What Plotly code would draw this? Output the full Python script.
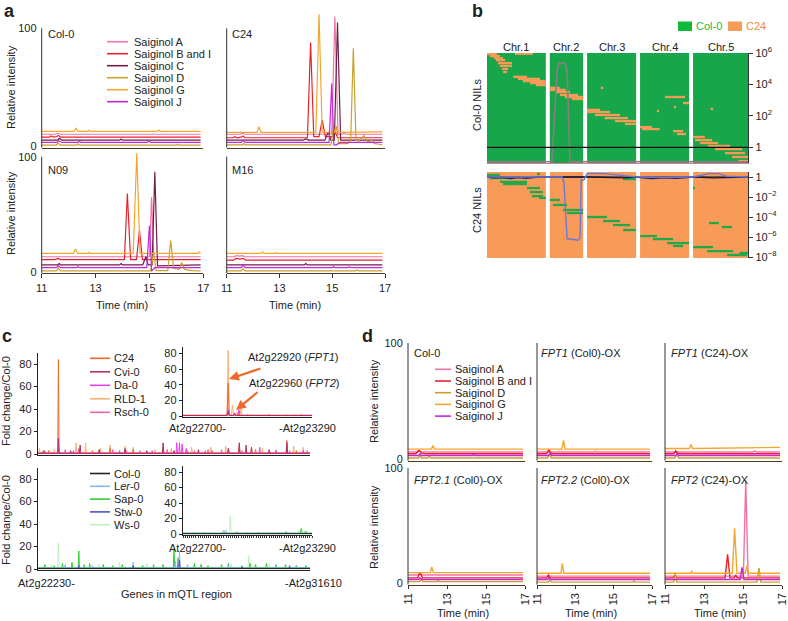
import plotly.graph_objects as go

W, H = 788, 621
FONT = "Liberation Sans, Arial, Helvetica, sans-serif"

# =========================== DATA ===========================
SAIGINOL_A = ["Saiginol A", "Saiginol B and I", "Saiginol C", "Saiginol D", "Saiginol G", "Saiginol J"]
SAIGINOL_D = ["Saiginol A", "Saiginol B and I", "Saiginol D", "Saiginol G", "Saiginol J"]
TIME_TICKS = [11, 13, 15, 17]
INTENSITY_TICKS = [0, 100]

A_TITLES = ["Col-0", "C24", "N09", "M16"]
# (time (min), relative intensity) per series
A_COL0 = {
    "Saiginol A": ([11, 11.5, 11.6, 11.7, 16.9], [10, 10, 10.8, 10, 10]),
    "Saiginol B and I": ([11, 11.3, 11.35, 11.45, 11.55, 11.62, 11.7, 16.9], [7.5, 7.5, 8.6, 7.6, 8.1, 9.0, 7.5, 7.5]),
    "Saiginol C": ([11, 11.6, 11.65, 11.75, 13.9, 13.95, 14.0, 16.9], [5, 5, 6.5, 5, 5, 6, 5, 5]),
    "Saiginol D": ([11, 11.55, 11.6, 11.7, 12.3, 12.35, 12.4, 16.0, 16.05, 16.1, 16.9], [0.8, 0.8, 2.5, 0.8, 0.8, 1.8, 0.8, 0.8, 1.5, 0.8, 0.8]),
    "Saiginol G": ([11, 12.2, 12.27, 12.35, 12.7, 12.75, 12.8, 15.3, 15.35, 15.4, 16.9], [12.5, 12.5, 15, 12.5, 12.5, 13.3, 12.5, 12.5, 13.5, 12.5, 12.5]),
    "Saiginol J": ([11, 11.55, 11.63, 11.75, 12.35, 12.4, 12.45, 14.9, 14.97, 15.05, 16.9], [3, 3, 4.5, 3, 3, 4, 3, 3, 4.5, 3, 3]),
}
A_C24 = {
    "Saiginol A": ([11, 11.5, 11.6, 11.7, 14.98, 15.1, 15.22, 15.4, 15.45, 15.5, 16.9], [10, 10, 11, 10, 10, 110, 10, 10, 11, 10, 10]),
    "Saiginol B and I": ([11, 11.25, 11.3, 11.4, 11.55, 11.62, 11.7, 14.06, 14.18, 14.3, 14.5, 14.62, 14.74, 15.05, 15.12, 15.2, 16.9],
                         [7, 7, 8, 7, 7.5, 8.5, 7, 7, 88, 8, 8, 22, 8, 8, 12, 7, 7]),
    "Saiginol C": ([11, 13.9, 14.0, 14.1, 14.72, 14.85, 14.95, 15.08, 15.2, 15.32, 15.5, 16.9], [5, 5, 6, 5, 5, 12, 5, 5, 105, 5, 5, 5]),
    "Saiginol D": ([11, 11.6, 11.65, 11.7, 14.95, 15.05, 15.1, 15.15, 15.25, 15.6, 15.7, 15.8, 15.9, 16.0, 16.2, 16.35, 16.5, 16.6, 16.8, 16.9],
                   [1, 1, 2, 1, 1, 16, 12, 17, 2, 2, 5, 83, 5, 4, 9, 3, 5, 2, 1.5, 1]),
    "Saiginol G": ([11, 12.15, 12.22, 12.3, 14.38, 14.5, 14.62, 15.1, 15.17, 15.25, 16.9], [11.5, 11.5, 16.5, 11.5, 11.5, 112, 11.5, 11.5, 14, 11.5, 12]),
    "Saiginol J": ([11, 11.55, 11.6, 11.7, 14.88, 14.98, 15.06, 15.15, 15.3, 16.9], [3, 3, 5, 3, 3, 53, 1, 1, 3, 3]),
}
A_N09 = {
    "Saiginol A": ([11, 15.0, 15.08, 15.16, 16.9], [13, 13, 65, 13, 13]),
    "Saiginol B and I": ([11, 11.5, 11.6, 11.7, 14.07, 14.18, 14.3, 14.52, 14.63, 14.74, 16.9], [10.5, 10.5, 11.5, 10.5, 10.5, 68, 10.5, 10.5, 36, 10.5, 10.5]),
    "Saiginol C": ([11, 11.6, 11.65, 11.7, 13.9, 13.95, 14.0, 14.75, 14.87, 14.95, 15.1, 15.2, 15.3, 16.9], [6, 6, 7, 6, 6, 7, 6, 6, 13, 6, 6, 87, 5, 6]),
    "Saiginol D": ([11, 11.55, 11.62, 11.7, 15.05, 15.15, 15.25, 15.68, 15.79, 15.9, 16.1, 16.2, 16.3, 16.6, 16.9],
                   [0.8, 0.8, 3, 0.8, 0.8, 17, 1, 1, 27, 3, 2, 8, 2, 1, 0.8]),
    "Saiginol G": ([11, 12.18, 12.25, 12.33, 12.7, 12.75, 12.8, 14.4, 14.53, 14.65, 16.8, 16.85, 16.9], [16, 16, 19.5, 16, 16, 16.8, 16, 16, 103, 16, 16, 17, 16]),
    "Saiginol J": ([11, 11.55, 11.62, 11.7, 12.3, 12.35, 12.4, 14.9, 15.0, 15.08, 15.2, 16.9], [3.5, 3.5, 5.5, 3.5, 3.5, 4.5, 3.5, 3.5, 40, 0.5, 3.5, 3.5]),
}
A_M16 = {
    "Saiginol A": ([11, 11.3, 11.35, 11.5, 11.6, 11.7, 16.9], [13, 13, 14, 13.5, 14, 13, 13]),
    "Saiginol B and I": ([11, 11.25, 11.35, 11.5, 11.62, 11.72, 16.9], [10, 10, 11.5, 11, 11.5, 10, 10]),
    "Saiginol C": ([11, 13.95, 14.0, 14.05, 16.9], [6, 6, 7, 6, 6]),
    "Saiginol D": ([11, 11.55, 11.62, 11.7, 15.9, 15.95, 16.0, 16.9], [0.8, 0.8, 2.5, 0.8, 0.8, 1.5, 0.8, 0.8]),
    "Saiginol G": ([11, 12.3, 12.35, 12.4, 12.8, 12.85, 12.9, 16.9], [16, 16, 17, 16, 16, 16.5, 16, 16]),
    "Saiginol J": ([11, 11.55, 11.62, 11.7, 15.0, 15.05, 15.1, 15.6, 15.65, 15.7, 16.9], [3.5, 3.5, 6, 3.5, 3.5, 4.5, 3.5, 3.5, 4.3, 3.5, 3.5]),
}

D_TITLES = ["Col-0", "<i>FPT1</i> (Col0)-OX", "<i>FPT1</i> (C24)-OX",
            "<i>FPT2.1</i> (Col0)-OX", "<i>FPT2.2</i> (Col0)-OX", "<i>FPT2</i> (C24)-OX"]
D_COL0 = {
    "Saiginol A": ([11, 11.5, 11.6, 11.7, 16.9], [6, 6, 7, 6, 6]),
    "Saiginol B and I": ([11, 11.4, 11.55, 11.7, 11.9, 16.9], [4.5, 4.5, 7.5, 5, 4.5, 4.5]),
    "Saiginol D": ([11, 11.55, 11.62, 11.7, 12.0, 12.1, 12.2, 16.9], [0.8, 0.8, 4, 0.8, 0.8, 2, 0.8, 0.8]),
    "Saiginol G": ([11, 12.2, 12.28, 12.36, 16.9], [8.5, 8.5, 11.5, 8.5, 8.5]),
    "Saiginol J": ([11, 11.55, 11.62, 11.7, 14.3, 14.35, 14.4, 16.9], [3, 3, 4.5, 3, 3, 4, 3, 3]),
}
D_FPT1_COL0 = {
    "Saiginol A": ([11, 14.0, 14.05, 14.1, 16.9], [6, 6, 6.8, 6, 6]),
    "Saiginol B and I": ([11, 11.5, 11.62, 11.75, 16.9], [4.5, 4.5, 8, 4.5, 4.5]),
    "Saiginol D": ([11, 11.55, 11.65, 11.75, 16.9], [0.8, 0.8, 4, 0.8, 0.8]),
    "Saiginol G": ([11, 12.3, 12.38, 12.46, 16.9], [8.5, 8.5, 16, 8.5, 8.5]),
    "Saiginol J": ([11, 11.6, 11.68, 11.76, 16.9], [3, 3, 5, 3, 3]),
}
D_FPT1_C24 = {
    "Saiginol A": ([11, 15.5, 15.6, 15.7, 16.9], [6, 6, 7, 6, 6]),
    "Saiginol B and I": ([11, 11.45, 11.55, 11.7, 16.9], [4.5, 4.5, 7, 4.5, 4.5]),
    "Saiginol D": ([11, 11.5, 11.6, 11.7, 16.9], [0.8, 0.8, 4, 0.8, 0.8]),
    "Saiginol G": ([11, 12.25, 12.33, 12.41, 16.9], [9, 9, 12.5, 9, 10]),
    "Saiginol J": ([11, 11.55, 11.62, 11.7, 16.9], [3, 3, 5, 3, 3]),
}
D_FPT21 = {
    "Saiginol A": ([11, 11.5, 11.6, 11.7, 16.9], [7, 7, 8, 7, 7]),
    "Saiginol B and I": ([11, 11.5, 11.62, 11.75, 16.9], [4.5, 4.5, 9, 4.5, 4.5]),
    "Saiginol D": ([11, 11.6, 11.68, 11.76, 12.5, 12.55, 12.6, 16.9], [1.2, 1.2, 4, 1.2, 1.2, 2, 1.2, 1.2]),
    "Saiginol G": ([11, 12.15, 12.22, 12.3, 16.9], [9, 9, 14, 9, 9]),
    "Saiginol J": ([11, 11.55, 11.62, 11.7, 16.9], [3, 3, 4.5, 3, 3]),
}
D_FPT22 = {
    "Saiginol A": ([11, 16.9], [6, 6]),
    "Saiginol B and I": ([11, 11.5, 11.6, 11.7, 16.9], [4.5, 4.5, 7, 4.5, 4.5]),
    "Saiginol D": ([11, 11.6, 11.67, 11.75, 16.0, 16.05, 16.1, 16.9], [0.8, 0.8, 3.5, 0.8, 0.8, 1.8, 0.8, 0.8]),
    "Saiginol G": ([11, 12.25, 12.32, 12.4, 16.9], [8.5, 8.5, 17, 8.5, 8.5]),
    "Saiginol J": ([11, 11.55, 11.62, 11.7, 16.9], [3, 3, 5, 3, 3]),
}
D_FPT2_C24 = {
    "Saiginol A": ([11, 15.02, 15.14, 15.26, 16.9], [6, 6, 89, 6, 6]),
    "Saiginol B and I": ([11, 11.4, 11.5, 11.6, 14.08, 14.21, 14.33, 14.55, 14.62, 14.7, 16.9], [4.5, 4.5, 6.5, 4.5, 4.5, 25, 4.5, 4.5, 7, 4.5, 4.5]),
    "Saiginol D": ([11, 11.45, 11.52, 11.6, 15.72, 15.82, 15.92, 16.9], [0.8, 0.8, 9, 0.8, 0.8, 13, 0.8, 0.8]),
    "Saiginol G": ([11, 12.3, 12.37, 12.44, 14.45, 14.57, 14.69, 15.12, 15.2, 15.28, 16.9], [8.5, 8.5, 10, 8.5, 8.5, 47.5, 8.5, 8.5, 15, 8.5, 8.5]),
    "Saiginol J": ([11, 14.85, 14.95, 15.05, 16.9], [3, 3, 13.5, 3, 3]),
}

# Panel b: genotype maps of near-isogenic lines
B_CHR_NAMES = ["Chr.1", "Chr.2", "Chr.3", "Chr.4", "Chr.5"]
B_CHR_START = [0, 32, 51, 78, 105]
B_CHR_LEN = [30, 17, 25, 25, 28]
B_NIL_ROWS = 60
B_TOP_SEG_START = [14.3, 0, 1.5, 3.6, 4.6, 5.6, 6.6, 7.6, 8.2, 13.3, 15.8, 18.3, 21.9, 25.0, 32.0, 32.0, 34.7, 37.2, 39.8, 43.3,
                   58.0, 90.7, 99.9, 95.3, 86.6, 114.0, 51.0, 51.0, 55.0, 60.0, 65.2, 70.3, 78.0, 79.0, 94.8, 96.8,
                   105.0, 106.0, 108.6, 112.6, 116.2, 121.3, 124.9, 128.0]
B_TOP_SEG_END = [23.4, 5.0, 6.6, 8.2, 9.2, 12.7, 12.7, 10.7, 10.2, 20.4, 27.0, 30.0, 30.0, 30.0, 37.0, 40.0, 42.3, 46.4, 49.0, 49.0,
                 59.2, 100.9, 103.0, 96.4, 87.7, 115.2, 57.6, 62.7, 67.8, 71.9, 76.0, 76.0, 84.0, 88.0, 99.9, 101.4,
                 111.0, 114.7, 117.7, 123.9, 130.0, 131.5, 133.0, 133.0]
B_TOP_SEG_ROW = [0.4, 0.6, 1.7, 2.8, 3.9, 5.5, 7.0, 8.7, 10.4, 13.0, 14.1, 15.3, 16.4, 17.5, 19.0, 20.1, 21.3, 22.9, 24.0, 25.1,
                 19.0, 24.0, 27.3, 29.5, 31.6, 30.5, 31.0, 32.2, 33.8, 35.5, 37.1, 38.7, 40.4, 41.5, 42.6, 44.2,
                 45.8, 47.5, 49.1, 50.7, 52.4, 54.6, 56.7, 58.9]
B_BOT_SEG_START = [0, 1.5, 6.6, 8.2, 20.4, 21.9, 22.9, 26.5, 32.0, 33.6, 38.7, 40.8, 51.0, 59.1, 64.2, 69.3, 78.0, 84.6,
                   91.7, 94.8, 105.0, 112.1, 122.3, 128.6, 113.1, 119.7, 105.0, 69.3, 25.5]
B_BOT_SEG_END = [6.6, 13.3, 20.4, 20.4, 27.0, 28.5, 28.5, 30.0, 37.2, 40.8, 49.0, 49.0, 61.1, 67.8, 72.9, 76.0, 86.6, 94.8,
                 103.0, 99.9, 115.2, 125.4, 132.5, 133.0, 118.2, 124.9, 106.0, 76.0, 27.0]
B_BOT_SEG_ROW = [2.1, 4.2, 6.9, 8.4, 11.2, 14.0, 16.8, 18.1, 19.5, 23.0, 26.5, 28.6, 31.4, 34.2, 37.0, 40.5, 44.7, 46.8,
                 49.6, 51.6, 52.4, 55.2, 57.9, 56.5, 35.6, 38.4, 11.2, 4.9, 1.4]
B_TOP_LOD_POS = [0, 31.9, 33.1, 35.7, 36.7, 39.8, 40.8, 42.3, 43.5, 133]
B_TOP_LOD_VAL = [0.12, 0.12, 0.12, 8e4, 2.2e5, 2.2e5, 8e4, 0.12, 0.12, 0.12]
B_BOT_LOD_POS = [0, 10, 20, 30, 32, 38.3, 39.2, 40.8, 46.5, 47.4, 48, 49.4, 51, 53, 60, 66, 72, 76, 78, 90, 103, 105, 109, 113, 118, 122, 133]
B_BOT_LOD_VAL = [1, 1, 1.1, 1, 1, 1, 0.3, 7e-7, 4.7e-7, 1e-6, 0.5, 0.5, 2.2, 2.3, 2.2, 1.6, 1.1, 1, 1, 0.9, 1, 1, 1.4, 2.2, 2.2, 1.2, 1]
B_BOT_NAVY_POS = [0, 4, 8, 12, 16, 20, 25, 30, 52, 60, 70, 76, 78, 84, 90, 96, 103, 106, 115, 125, 133]
B_BOT_NAVY_VAL = [1, 0.8, 0.9, 0.7, 0.85, 0.75, 0.9, 1, 1, 0.9, 0.8, 1, 0.85, 0.7, 0.8, 0.75, 0.9, 1, 0.8, 0.9, 1]
B_THRESHOLD = 1
B_TOP_TICKS = [1e6, 1e4, 1e2, 1]
B_TOP_TICKTEXT = ["10<sup>6</sup>", "10<sup>4</sup>", "10<sup>2</sup>", "1"]
B_BOT_TICKS = [1, 1e-2, 1e-4, 1e-6, 1e-8]
B_BOT_TICKTEXT = ["1", "10<sup>\u22122</sup>", "10<sup>\u22124</sup>", "10<sup>\u22126</sup>", "10<sup>\u22128</sup>"]

# Panel c: fold change vs Col-0 across genes of the mQTL region; spikes = (gene index, fold change)
C_MAIN_N = 200
C_INSET_N = 60
C_FOLD_TICKS = [0, 20, 40, 60, 80]
C_TOP_ACC = ["C24", "Cvi-0", "Da-0", "RLD-1", "Rsch-0"]
C_BOT_ACC = ["Col-0", "Ler-0", "Sap-0", "Stw-0", "Ws-0"]
C_BASE = {"C24": 0.8, "Cvi-0": 0.6, "Da-0": 0.5, "RLD-1": 1.0, "Rsch-0": 0.8,
          "Col-0": 0.4, "Ler-0": 0.8, "Sap-0": 1.0, "Stw-0": 0.6, "Ws-0": 1.2}
C_TOP_MAIN = {
    "RLD-1": [(1, 5), (12, 4), (28, 10), (35, 10), (46, 5), (53, 8), (64, 7), (70, 6), (86, 4), (98, 5), (113, 6), (127, 6),
              (138, 7), (157, 5), (165, 5), (175, 4), (188, 7), (195, 6)],
    "C24": [(8, 3), (15, 84), (30, 4), (40, 3), (53, 5), (70, 4), (92, 6), (110, 3), (128, 3), (148, 7), (160, 4), (183, 12), (190, 3)],
    "Rsch-0": [(5, 3), (20, 4), (30, 5), (45, 3), (55, 4), (65, 3), (75, 3), (95, 4), (115, 3), (125, 4), (135, 4), (150, 3),
               (170, 4), (185, 3), (198, 3)],
    "Da-0": [(15, 5), (26, 3), (60, 3), (84, 3), (102, 10), (104, 10), (106, 9), (109, 5), (123, 3), (140, 5), (163, 6), (175, 3), (195, 3)],
    "Cvi-0": [(4, 3), (15, 14), (24, 3), (31, 8), (45, 4), (64, 5), (80, 3), (92, 10), (100, 3), (118, 4), (140, 5), (148, 10),
              (153, 8), (157, 6), (170, 3), (183, 10)],
}
C_TOP_INSET = {
    "RLD-1": [(8, 2), (21, 84), (23, 14), (25, 5), (27, 10), (33, 2), (52, 2), (57, 2)],
    "C24": [(21, 42), (24, 3), (26, 3), (30, 2), (45, 1.5), (55, 2)],
    "Rsch-0": [(15, 1.5), (21, 9), (26, 7), (40, 2), (48, 1.5)],
    "Da-0": [(21, 8), (24, 4), (26, 8)],
    "Cvi-0": [(10, 1.5), (21, 6), (24, 3), (50, 1.5)],
}
C_BOT_MAIN = {
    "Ws-0": [(10, 4), (15, 23), (45, 4), (60, 6), (80, 5), (100, 12), (120, 5), (142, 5), (155, 12), (170, 5), (190, 4)],
    "Sap-0": [(5, 4), (12, 3), (18, 5), (25, 6), (30, 16), (34, 4), (38, 5), (48, 4), (55, 3), (62, 4), (77, 3), (85, 4), (92, 4),
              (100, 18), (103, 10), (115, 5), (120, 4), (125, 3), (135, 4), (140, 5), (150, 3), (156, 5), (160, 4), (168, 5),
              (175, 4), (182, 4), (190, 3), (197, 3)],
    "Ler-0": [(20, 4), (40, 3), (70, 6), (101, 7), (104, 15), (110, 4), (140, 3), (175, 3), (190, 3)],
    "Stw-0": [(30, 3), (70, 3), (104, 8), (150, 2), (185, 3)],
    "Col-0": [],
}
C_BOT_INSET = {
    "Ws-0": [(12, 2), (20, 6), (22, 23), (40, 3), (54, 5)],
    "Sap-0": [(5, 2), (10, 2), (18, 2), (25, 3), (35, 2), (48, 3), (55, 7), (57, 4)],
    "Ler-0": [(19, 5), (30, 2), (45, 2)],
    "Stw-0": [(20, 2)],
    "Col-0": [],
}

# =========================== STYLE ===========================
SAI_COLORS = {"Saiginol A": "#F272A8", "Saiginol B and I": "#E8222C", "Saiginol C": "#6E1F46",
              "Saiginol D": "#C9A12E", "Saiginol G": "#F6A52C", "Saiginol J": "#C526DE"}
ACC_COLORS = {"C24": "#EE6A2C", "Cvi-0": "#B3305F", "Da-0": "#E044E6", "RLD-1": "#F7B274", "Rsch-0": "#F2629E",
              "Col-0": "#222222", "Ler-0": "#86B6EE", "Sap-0": "#33CC33", "Stw-0": "#4A56C6", "Ws-0": "#BFF0BF"}
ACC_LABELS = {"Ler-0": "L<i>er</i>-0"}
GREEN = "#17A74A"
ORANGE = "#F89B58"
AXC = "#333333"
FS = 11

fig = go.Figure()
layout = dict(width=W, height=H, margin=dict(l=0, r=0, t=0, b=0, pad=0, autoexpand=False), paper_bgcolor="white",
              plot_bgcolor="rgba(0,0,0,0)", showlegend=False, barmode="overlay", hovermode=False,
              font=dict(family=FONT, size=FS, color="#222"))
shapes, annotations = [], []


def k(p, n):
    return p + ("" if n == 1 else str(n))


def dom(px_a, va, px_b, vb, r0, r1, vertical):
    s = (px_b - px_a) / (vb - va)
    p0 = px_a + (r0 - va) * s
    p1 = px_a + (r1 - va) * s
    if vertical:
        a, b = 1 - p0 / H, 1 - p1 / H
    else:
        a, b = p0 / W, p1 / W
    lo, hi = min(a, b), max(a, b)
    return [max(0.0, lo), min(1.0, hi)]


def base_x(n, domain, rng, **kw):
    d = dict(domain=domain, range=rng, anchor=k("y", n), showgrid=False, zeroline=False, showline=False,
             ticks="", showticklabels=False, fixedrange=True, automargin=False)
    d.update(kw)
    layout[k("xaxis", n)] = d


def base_y(n, domain, rng, **kw):
    d = dict(domain=domain, range=rng, anchor=k("x", n), showgrid=False, zeroline=False, showline=False,
             ticks="", showticklabels=False, fixedrange=True, automargin=False)
    d.update(kw)
    layout[k("yaxis", n)] = d


def line(xs, ys, color, n, width=1.1, yaxis=None):
    fig.add_trace(go.Scatter(x=xs, y=ys, mode="lines", line=dict(color=color, width=width),
                             xaxis=k("x", n), yaxis=yaxis or k("y", n), showlegend=False, hoverinfo="skip"))


def text(x, y, s, size=FS, xanchor="left", yanchor="middle", color="#222", angle=0, bold=False):
    if bold:
        s = "<b>" + s + "</b>"
    annotations.append(dict(xref="paper", yref="paper", x=x / W, y=1 - y / H, text=s, showarrow=False,
                            xanchor=xanchor, yanchor=yanchor, textangle=angle, borderpad=0,
                            font=dict(size=size, color=color, family=FONT)))


def legend_block(names, colors, x0, x1, xt, y0, dy, labels=None, width=1.6):
    for i, nm in enumerate(names):
        y = y0 + i * dy
        shapes.append(dict(type="line", xref="paper", yref="paper", x0=x0 / W, x1=x1 / W, y0=1 - y / H, y1=1 - y / H,
                           line=dict(color=colors[nm], width=width)))
        text(xt, y, (labels or {}).get(nm, nm))


def yaxis_line(n, y0, y1):
    shapes.append(dict(type="line", xref=k("x", n) + " domain", x0=0, x1=0, yref=k("y", n), y0=y0, y1=y1,
                       line=dict(color=AXC, width=1)))


# =========================== PANEL a ===========================
A_DATA = [A_COL0, A_C24, A_N09, A_M16]
A_X = [(41.7, 203.3), (226.7, 385.0), (41.7, 203.3), (226.7, 385.0)]
A_Y = [(146.0, 28.3, 123), (146.0, 28.3, 123), (271.7, 156.7, 110), (271.7, 156.7, 110)]
for i in range(4):
    n = i + 1
    xa, xb = A_X[i]
    y0p, y100p, ytop = A_Y[i]
    bottom = i >= 2
    base_x(n, dom(xa, 11, xb, 17, 11, 17, False), [11, 17], showline=True, linecolor="#4a3b22", linewidth=1,
           ticks="outside" if bottom else "", ticklen=4, tickcolor=AXC, tickvals=TIME_TICKS,
           showticklabels=bottom, tickfont=dict(size=FS))
    base_y(n, dom(y0p, 0, y100p, 100, -1.5, ytop, True), [-1.5, ytop], tickvals=INTENSITY_TICKS,
           showticklabels=(i % 2 == 0), tickfont=dict(size=FS), ticks="outside", ticklen=2, tickcolor="rgba(0,0,0,0)")
    yaxis_line(n, -1.5, 100)
    for nm in SAIGINOL_A:
        t, v = A_DATA[i][nm]
        line(t, v, SAI_COLORS[nm], n, width=1.2)
    tx = 46.5 if i % 2 == 0 else 231
    ty = 34 if i < 2 else 170
    text(tx, ty, A_TITLES[i])

text(11, 87, "Relative intensity", xanchor="center", angle=-90)
text(11, 213, "Relative intensity", xanchor="center", angle=-90)
text(122, 305, "Time (min)", xanchor="center")
text(295, 305, "Time (min)", xanchor="center")
legend_block(SAIGINOL_A, SAI_COLORS, 107, 128, 132.5, 41.7, 12.0)
text(3, 11, "a", size=18, bold=True)

# =========================== PANEL b ===========================
chr_centers = [s + l / 2 for s, l in zip(B_CHR_START, B_CHR_LEN)]
XB = dom(487, 0, 748, 133, 0, 133, False)
# top map (Col-0 NILs)
base_x(5, XB, [0, 133], showline=True, linecolor="#E07C9A", linewidth=1.2)
base_y(5, [1 - 163 / H, 1 - 53 / H], [B_NIL_ROWS, 0])
layout["yaxis6"] = dict(overlaying="y5", anchor="x5", side="right", type="log", range=[-1, 6],
                        tickvals=B_TOP_TICKS, ticktext=B_TOP_TICKTEXT, ticks="outside", ticklen=4, tickcolor=AXC,
                        showline=True, linecolor=AXC, linewidth=1.2, showgrid=False, zeroline=False, fixedrange=True,
                        tickfont=dict(size=FS), automargin=False)
fig.add_trace(go.Bar(x=chr_centers, y=[B_NIL_ROWS] * 5, width=B_CHR_LEN, base=0,
                     marker=dict(color=GREEN, line=dict(width=0)), xaxis="x5", yaxis="y5", hoverinfo="skip"))
fig.add_trace(go.Bar(orientation="h", y=B_TOP_SEG_ROW, x=[e - s for s, e in zip(B_TOP_SEG_START, B_TOP_SEG_END)],
                     base=B_TOP_SEG_START, width=1.25, marker=dict(color=ORANGE, line=dict(width=0)),
                     xaxis="x5", yaxis="y5", hoverinfo="skip"))
line(B_TOP_LOD_POS, B_TOP_LOD_VAL, "#8E7C84", 5, width=1.6, yaxis="y6")
line([0, 133], [B_THRESHOLD, B_THRESHOLD], "#111111", 5, width=1.3, yaxis="y6")

# bottom map (C24 NILs)
base_x(7, XB, [0, 133])
base_y(7, [1 - 258 / H, 1 - 172 / H], [B_NIL_ROWS, 0])
layout["yaxis8"] = dict(overlaying="y7", anchor="x7", side="right", type="log", range=[-8.1, 0.5],
                        tickvals=B_BOT_TICKS, ticktext=B_BOT_TICKTEXT, ticks="outside", ticklen=4, tickcolor=AXC,
                        showline=True, linecolor=AXC, linewidth=1.2, showgrid=False, zeroline=False, fixedrange=True,
                        tickfont=dict(size=FS), automargin=False)
fig.add_trace(go.Bar(x=chr_centers, y=[B_NIL_ROWS] * 5, width=B_CHR_LEN, base=0,
                     marker=dict(color=ORANGE, line=dict(width=0)), xaxis="x7", yaxis="y7", hoverinfo="skip"))
fig.add_trace(go.Bar(orientation="h", y=B_BOT_SEG_ROW, x=[e - s for s, e in zip(B_BOT_SEG_START, B_BOT_SEG_END)],
                     base=B_BOT_SEG_START, width=1.6, marker=dict(color="#22A848", line=dict(width=0)),
                     xaxis="x7", yaxis="y7", hoverinfo="skip"))
line(B_BOT_NAVY_POS, B_BOT_NAVY_VAL, "#1C1F66", 7, width=1.3, yaxis="y8")
line([0, 133], [B_THRESHOLD, B_THRESHOLD], "#111111", 7, width=1.2, yaxis="y8")
line(B_BOT_LOD_POS, B_BOT_LOD_VAL, "#6F78D8", 7, width=1.4, yaxis="y8")

for nm, cx in zip(B_CHR_NAMES, chr_centers):
    annotations.append(dict(xref="x5", yref="paper", x=cx, y=1 - 47 / H, text=nm, showarrow=False,
                            xanchor="center", yanchor="middle", font=dict(size=FS, color="#222", family=FONT)))
shapes.append(dict(type="rect", xref="paper", yref="paper", x0=678 / W, x1=692 / W, y0=1 - 31 / H, y1=1 - 21.5 / H,
                   fillcolor="#11B93A", line=dict(width=0)))
text(694.5, 26.5, "Col-0", color="#1DB83E")
shapes.append(dict(type="rect", xref="paper", yref="paper", x0=728 / W, x1=742 / W, y0=1 - 31 / H, y1=1 - 21.5 / H,
                   fillcolor=ORANGE, line=dict(width=0)))
text(744.5, 26.5, "C24", color="#F08A3E")
text(477, 105, "Col-0 NILs", xanchor="center", angle=-90)
text(477, 210, "C24 NILs", xanchor="center", angle=-90)
text(471, 11, "b", size=18, bold=True)

# =========================== PANEL c ===========================


def spike_path(spikes, b, n_genes):
    xs, ys = [0], [b]
    for gi, v in sorted(spikes):
        xs += [gi - 0.5, gi, gi + 0.5]
        ys += [b, v, b]
    xs.append(n_genes)
    ys.append(b)
    return xs, ys


C_AX = {9: ((38, 310), (454, 364), C_MAIN_N), 10: ((183, 312), (416, 353.5), C_INSET_N),
        11: ((38, 310), (569, 479), C_MAIN_N), 12: ((183, 312), (534, 472), C_INSET_N)}
for n, ((xa, xb), (p0, p80), ng) in C_AX.items():
    top = 88 if n in (10, 12) else 90
    base_x(n, dom(xa, 0, xb, ng, 0, ng, False), [0, ng], showline=True, linecolor="#222", linewidth=1.2,
           ticks="outside" if n == 12 else "", dtick=1, tick0=0, ticklen=2.5, tickcolor="#333")
    base_y(n, dom(p0, 0, p80, 80, -1, top, True), [-1, top],
           tickvals=C_FOLD_TICKS, showticklabels=True, ticks="outside", ticklen=3, tickcolor="#222",
           showline=True, linecolor="#222", linewidth=1.2, tickfont=dict(size=FS))
for acc, sp in C_TOP_MAIN.items():
    xs, ys = spike_path(sp, C_BASE[acc], C_MAIN_N)
    line(xs, ys, ACC_COLORS[acc], 9, width=1.0)
for acc, sp in C_TOP_INSET.items():
    xs, ys = spike_path(sp, C_BASE[acc], C_INSET_N)
    line(xs, ys, ACC_COLORS[acc], 10, width=1.0)
for acc, sp in C_BOT_MAIN.items():
    xs, ys = spike_path(sp, C_BASE[acc], C_MAIN_N)
    line(xs, ys, ACC_COLORS[acc], 11, width=1.0)
for acc, sp in C_BOT_INSET.items():
    xs, ys = spike_path(sp, C_BASE[acc], C_INSET_N)
    line(xs, ys, ACC_COLORS[acc], 12, width=1.0)

legend_block(C_TOP_ACC, ACC_COLORS, 90, 110, 113, 358.3, 13.5)
legend_block(C_BOT_ACC, ACC_COLORS, 90, 110, 113, 473.5, 12.8, labels=ACC_LABELS)
text(6, 401, "Fold change/Col-0", xanchor="center", angle=-90)
text(6, 520, "Fold change/Col-0", xanchor="center", angle=-90)
text(168, 428, "At2g22700-")
text(337, 428, "-At2g23290", xanchor="right")
text(168, 548, "At2g22700-")
text(337, 548, "-At2g23290", xanchor="right")
text(17, 583, "At2g22230-")
text(343, 583, "-At2g31610", xanchor="right")
text(176, 594, "Genes in mQTL region", xanchor="center")
text(247, 357, "At2g22920 (<i>FPT1</i>)")
text(248, 383, "At2g22960 (<i>FPT2</i>)")
for hx, hy, tx, ty in [(229, 379, 262, 368), (236, 410, 259, 391)]:
    annotations.append(dict(xref="paper", yref="paper", x=hx / W, y=1 - hy / H, text="", showarrow=True,
                            axref="pixel", ayref="pixel", ax=tx - hx, ay=ty - hy, arrowhead=2, arrowsize=0.9,
                            arrowwidth=2.2, arrowcolor="#EE6A2C", standoff=0, startstandoff=0))
text(1, 336, "c", size=18, bold=True)

# =========================== PANEL d ===========================
D_DATA = [D_COL0, D_FPT1_COL0, D_FPT1_C24, D_FPT21, D_FPT22, D_FPT2_C24]
D_X = [(408, 525), (537, 652), (665, 782)]
D_Y = [(459, 343), (583, 468)]
for i in range(6):
    n = 13 + i
    r, c = divmod(i, 3)
    xa, xb = D_X[c]
    p0, p100 = D_Y[r]
    bottom = r == 1
    base_x(n, dom(xa, 11, xb, 17, 11, 17, False), [11, 17], showline=True, linecolor="#4a3b22", linewidth=1,
           ticks="outside" if bottom else "", ticklen=3, tickcolor=AXC, tickvals=TIME_TICKS,
           showticklabels=bottom, tickangle=-90, tickfont=dict(size=FS))
    base_y(n, dom(p0, 0, p100, 100, -1.5, 101, True), [-1.5, 101], tickvals=INTENSITY_TICKS,
           showticklabels=(c == 0), tickfont=dict(size=FS), ticks="outside", ticklen=2, tickcolor="rgba(0,0,0,0)")
    yaxis_line(n, -1.5, 100)
    for nm in SAIGINOL_D:
        t, v = D_DATA[i][nm]
        line(t, v, SAI_COLORS[nm], n, width=1.4)
    tx = [413, 539.5, 669.5][c]
    ty = [353, 480][r]
    text(tx, ty, D_TITLES[i])
    if bottom:
        text((xa + xb) / 2 - 4, 613, "Time (min)", xanchor="center")

text(374, 401, "Relative intensity", xanchor="center", angle=-90)
text(374, 527, "Relative intensity", xanchor="center", angle=-90)
legend_block(SAIGINOL_D, SAI_COLORS, 435, 451, 453.5, 369.3, 11.7)
text(361, 336, "d", size=18, bold=True)

layout["shapes"] = shapes
layout["annotations"] = annotations
fig.update_layout(**layout)
# the page body's default 8px margin would shift the figure inside the 788x621 window
fig.write_html("out.html", config={"displayModeBar": False, "staticPlot": True},
               post_script="document.body.style.margin='0px';document.body.style.overflow='hidden';")
